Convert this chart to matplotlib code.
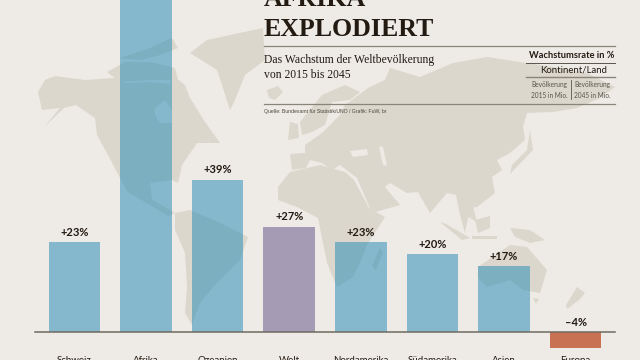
import matplotlib
matplotlib.use('Agg')
import matplotlib.pyplot as plt
from matplotlib.patches import Polygon

# Daten
laender = ['Schweiz', 'Afrika', 'Ozeanien', 'Welt', 'Nordamerika', 'Südamerika', 'Asien', 'Europa']
wachstum = [23, 90, 39, 27, 23, 20, 17, -4]
beschriftung = ['+23%', '', '+39%', '+27%', '+23%', '+20%', '+17%', '–4%']
farben = ['#2f8eb7', '#2f8eb7', '#2f8eb7', '#69598d', '#2f8eb7', '#2f8eb7', '#2f8eb7', '#c4603f']

# Weltkarte im Hintergrund (grobe Umrisse in Pixeln)
land = [
    # Nordamerika
    [(38, 92), (45, 80), (55, 76), (85, 80), (115, 78), (125, 83), (150, 82), (170, 84), (172, 75), (185, 85),
     (190, 98), (205, 122), (220, 143), (197, 143), (182, 165), (178, 183), (172, 180), (150, 183), (152, 200),
     (165, 207), (175, 213), (168, 216), (150, 205), (128, 192), (120, 178), (107, 153), (97, 135), (95, 118),
     (76, 105), (64, 108), (44, 127), (60, 108), (42, 110)],
    # Arktische Inseln
    [(107, 72), (125, 62), (150, 62), (175, 68), (178, 80), (150, 80), (120, 82)],
    [(120, 58), (150, 48), (172, 38), (178, 48), (160, 55), (140, 60)],
    # Grönland
    [(190, 53), (207, 40), (263, 28), (265, 60), (245, 75), (235, 100), (230, 110), (222, 85), (217, 70)],
    # Island
    [(267, 90), (278, 86), (283, 92), (275, 100), (269, 98)],
    # Grossbritannien
    [(290, 122), (298, 124), (299, 138), (288, 140)],
    # Skandinavien
    [(302, 135), (300, 122), (322, 95), (345, 85), (360, 92), (350, 100), (332, 102), (325, 125), (312, 132)],
    # Eurasien
    [(290, 154), (305, 153), (305, 145), (322, 133), (340, 115), (345, 105), (368, 88), (385, 80), (390, 68),
     (420, 77), (453, 63), (487, 57), (520, 62), (553, 67), (587, 73), (615, 87), (600, 98), (577, 108), (553, 112),
     (527, 113), (523, 127), (525, 140), (510, 153), (497, 160), (502, 170), (492, 177), (495, 193), (477, 207),
     (470, 208), (465, 233), (460, 215), (456, 195), (447, 193), (430, 213), (418, 192), (407, 193), (390, 183),
     (385, 187), (400, 205), (372, 213), (357, 178), (340, 165), (332, 170), (322, 163), (310, 160), (306, 168),
     (292, 170)],
    # Afrika
    [(290, 172), (320, 165), (345, 172), (354, 180), (369, 208), (385, 217), (367, 245), (360, 263), (353, 277),
     (337, 287), (327, 263), (323, 243), (318, 218), (297, 207), (278, 200), (278, 187)],
    # Madagaskar
    [(380, 248), (383, 252), (376, 270), (372, 266)],
    # Südamerika
    [(175, 213), (190, 210), (220, 223), (248, 237), (240, 260), (213, 287), (200, 303), (192, 325), (185, 313),
     (187, 287), (185, 253), (175, 230)],
    # Australien und Neuseeland
    [(478, 267), (510, 245), (527, 247), (547, 270), (540, 293), (523, 290), (510, 280), (487, 287), (478, 278)],
    [(533, 298), (539, 299), (536, 304)],
    [(577, 287), (585, 293), (579, 300), (567, 309), (566, 305)],
    # Indonesien, Japan
    [(440, 222), (446, 224), (470, 238), (462, 240)],
    [(475, 220), (490, 216), (490, 228), (478, 233)],
    [(472, 236), (497, 236), (497, 239), (472, 239)],
    [(510, 228), (530, 230), (545, 240), (530, 243), (515, 237)],
    [(460, 200), (472, 203), (477, 222), (465, 215)],
    [(530, 130), (533, 150), (510, 174), (512, 165), (527, 150)],
]
meere = [
    [(155, 108), (165, 100), (172, 110), (172, 123), (160, 123), (155, 115)],  # Hudson Bay
    [(350, 151), (367, 149), (368, 155), (353, 157)],  # Schwarzes Meer
    [(379, 146), (383, 147), (387, 166), (383, 165)],  # Kaspisches Meer
]

hintergrund = '#eeebe6'
schrift = '#231a12'
linie = '#8a857a'
schmal = ['Lato', 'DejaVu Sans']
serif = ['Liberation Serif', 'DejaVu Serif']

fig = plt.figure(figsize=(6.4, 3.6), dpi=100, facecolor=hintergrund)

# Achse in Pixeln fuer Karte und Kopfbereich
bg = fig.add_axes([0, 0, 1, 1])
bg.set_xlim(0, 640)
bg.set_ylim(360, 0)
bg.axis('off')
for umriss in land:
    bg.add_patch(Polygon(umriss, closed=True, facecolor='#dbd7cc', edgecolor='none'))
for umriss in meere:
    bg.add_patch(Polygon(umriss, closed=True, facecolor=hintergrund, edgecolor='none'))

# Balken
ax = fig.add_axes([0, 0, 1, 1])
ax.patch.set_alpha(0)
ax.set_xlim(-1.04, 7.9)
ax.set_ylim(-7.015, 84.8)
ax.axis('off')
x = list(range(len(laender)))
balken = ax.bar(x, wachstum, width=0.72, color=farben, alpha=0.55)
balken[-1].set_alpha(0.88)
ax.axhline(0, xmin=35 / 640, xmax=615 / 640, color='#6e6a62', linewidth=1.1)

for i in x:
    oben = max(wachstum[i], 0)
    ax.annotate(beschriftung[i], (i, oben), xytext=(0, 7), textcoords='offset points', ha='center', va='center',
                fontsize=8, fontweight='bold', family=schmal, color=schrift)
    ax.annotate(laender[i], (i, 0), xytext=(0, -17), textcoords='offset points', ha='center', va='top',
                fontsize=7, family=schmal, color=schrift, annotation_clip=False)

# Titel
bg.text(264, 6, 'AFRIKA', family=serif, fontsize=18.6, fontweight='bold', color=schrift, va='baseline')
bg.text(264, 36.5, 'EXPLODIERT', family=serif, fontsize=18.6, fontweight='bold', color=schrift, va='baseline')
bg.text(264, 60, 'Das Wachstum der Weltbevölkerung', family=serif, fontsize=8.4, color=schrift, va='center')
bg.text(264, 75, 'von 2015 bis 2045', family=serif, fontsize=8.4, color=schrift, va='center')
bg.text(264, 111, 'Quelle: Bundesamt für Statistik/UNO / Grafik: FuW, br', family='Liberation Sans', fontsize=3.7,
        color='#4a453d', va='center')
bg.plot([264, 615], [45.5, 45.5], color=linie, linewidth=0.9)
bg.plot([264, 615], [103.5, 103.5], color=linie, linewidth=0.9)

# Legende
bg.text(614, 55.5, 'Wachstumsrate in %', family=schmal, fontsize=6.7, fontweight='bold', color=schrift, ha='right', va='center')
bg.plot([526, 615], [62.5, 62.5], color='#5a554c', linewidth=0.7)
bg.text(574, 70, 'Kontinent/Land', family=schmal, fontsize=6.9, color=schrift, ha='center', va='center')
bg.plot([526, 615], [77, 77], color=linie, linewidth=1)
bg.text(567.5, 85, 'Bevölkerung', family=schmal, fontsize=4.7, color='#5a554c', ha='right', va='center')
bg.text(567.5, 95, '2015 in Mio.', family=schmal, fontsize=4.7, color='#5a554c', ha='right', va='center')
bg.text(574, 85, 'Bevölkerung', family=schmal, fontsize=4.7, color='#5a554c', ha='left', va='center')
bg.text(574, 95, '2045 in Mio.', family=schmal, fontsize=4.7, color='#5a554c', ha='left', va='center')
bg.plot([570.5, 570.5], [80, 99], color='#5a554c', linewidth=0.6)

fig.savefig('out.png', dpi=100, facecolor=hintergrund)
